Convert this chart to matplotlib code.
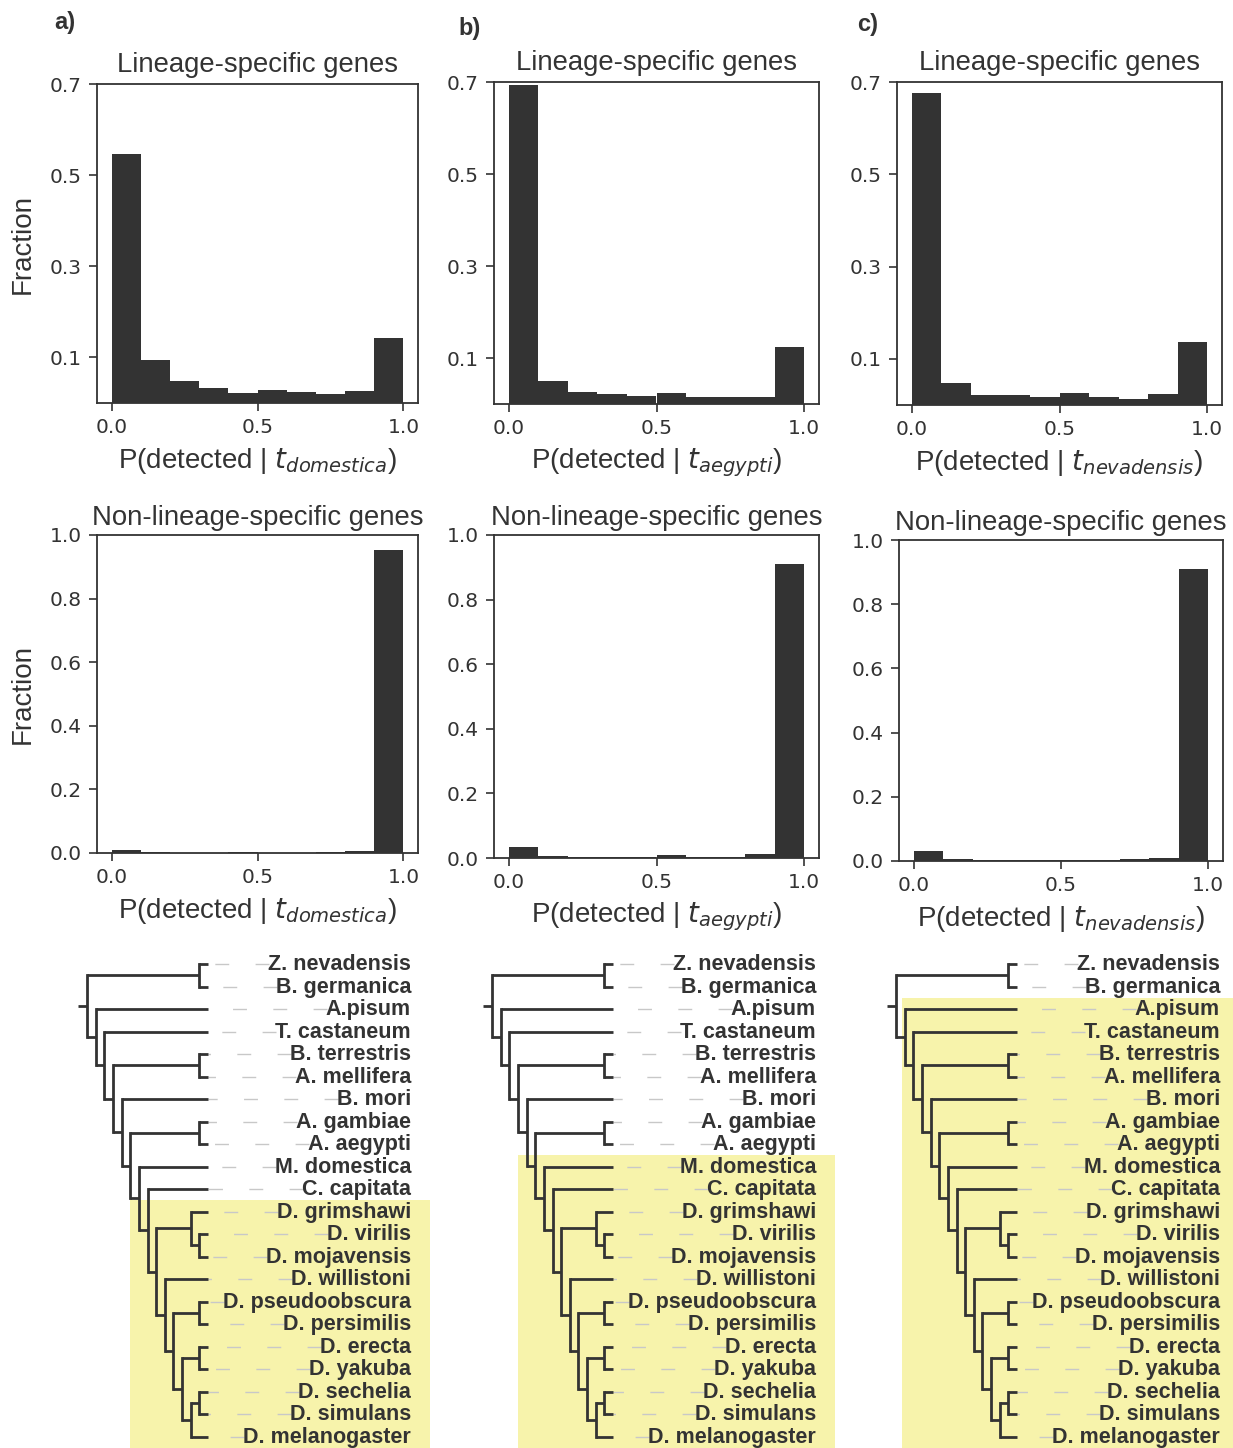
import numpy as np
import matplotlib
matplotlib.use('Agg')
import matplotlib.pyplot as plt
from matplotlib.patches import Rectangle

plt.rcParams['font.family'] = ['Liberation Sans', 'DejaVu Sans']
plt.rcParams['mathtext.fontset'] = 'dejavusans'

DARK = '#333333'
YELLOW = '#f7f3ab'
GUIDE = '#c8c8c8'

# histogram bins (P(detected) in steps of 0.1)
bin_edges = np.round(np.arange(0, 1.01, 0.1), 2)

# lineage-specific genes, fraction per bin
ls_domestica = [0.546, 0.095, 0.048, 0.033, 0.022, 0.029, 0.025, 0.019, 0.027, 0.142]
ls_aegypti = [0.693, 0.049, 0.027, 0.022, 0.017, 0.025, 0.015, 0.015, 0.016, 0.124]
ls_nevadensis = [0.677, 0.048, 0.021, 0.021, 0.018, 0.025, 0.018, 0.014, 0.023, 0.136]

# non-lineage-specific genes, fraction per bin
nls_domestica = [0.011, 0.002, 0.001, 0.001, 0.002, 0.001, 0.001, 0.002, 0.005, 0.953]
nls_aegypti = [0.034, 0.007, 0.004, 0.004, 0.004, 0.008, 0.004, 0.004, 0.013, 0.909]
nls_nevadensis = [0.031, 0.006, 0.003, 0.004, 0.004, 0.004, 0.003, 0.006, 0.008, 0.910]

focal = ['domestica', 'aegypti', 'nevadensis']
panel_letters = ['a)', 'b)', 'c)']
ls_data = [ls_domestica, ls_aegypti, ls_nevadensis]
nls_data = [nls_domestica, nls_aegypti, nls_nevadensis]

# species tree (leaf order top to bottom)
tree = (('Z. nevadensis', 'B. germanica'),
        ('A.pisum',
         ('T. castaneum',
          (('B. terrestris', 'A. mellifera'),
           ('B. mori',
            (('A. gambiae', 'A. aegypti'),
             ('M. domestica',
              ('C. capitata',
               (('D. grimshawi', ('D. virilis', 'D. mojavensis')),
                ('D. willistoni',
                 (('D. pseudoobscura', 'D. persimilis'),
                  (('D. erecta', 'D. yakuba'),
                   (('D. sechelia', 'D. simulans'), 'D. melanogaster')))))))))))))

# highlighted clade per panel: (first leaf, left edge, right edge in tree units)
highlight = [('D. grimshawi', -9.0, 25.7), ('M. domestica', -11.0, 25.7),
             ('A.pisum', -13.3, 30.0)]

W, H = 1233, 1448
fig = plt.figure(figsize=(W / 100, H / 100), dpi=100)


def px_axes(x0, y0, x1, y1):
    return fig.add_axes([x0 / W, 1 - y1 / H, (x1 - x0) / W, (y1 - y0) / H])


def style_hist(ax):
    for s in ax.spines.values():
        s.set_color(DARK)
        s.set_linewidth(1.3)
    ax.tick_params(colors=DARK, labelsize=14.5, length=6, width=1.2, pad=5,
                   top=False, right=False)
    ax.set_xlim(-0.05, 1.05)
    ax.set_xticks([0.0, 0.5, 1.0])
    ax.set_xticklabels(['0.0', '0.5', '1.0'], family='DejaVu Sans')


top_boxes = [(97, 84, 418, 403), (494, 82, 819, 404), (897, 82, 1222, 405)]
mid_boxes = [(97, 535, 418, 853), (494, 535, 819, 858), (899, 540, 1223, 861)]
letter_pos = [(65, 22), (470, 28), (868, 25)]

for i in range(3):
    xlab = r'P(detected | $t_{%s}$)' % focal[i]

    ax = px_axes(*top_boxes[i])
    ax.bar(bin_edges[:-1], ls_data[i], width=0.1, align='edge', color=DARK,
           linewidth=0)
    style_hist(ax)
    ax.set_ylim(0, 0.7)
    ax.set_yticks([0.1, 0.3, 0.5, 0.7])
    ax.set_yticklabels(['0.1', '0.3', '0.5', '0.7'], family='DejaVu Sans')
    ax.set_title('Lineage-specific genes', fontsize=19.8, color=DARK, pad=9)
    ax.set_xlabel(xlab, fontsize=20, color=DARK, labelpad=6)
    if i == 0:
        ax.set_ylabel('Fraction', fontsize=20, color=DARK, labelpad=10)

    ax = px_axes(*mid_boxes[i])
    ax.bar(bin_edges[:-1], nls_data[i], width=0.1, align='edge', color=DARK,
           linewidth=0)
    style_hist(ax)
    ax.set_ylim(0, 1.0)
    ax.set_yticks([0.0, 0.2, 0.4, 0.6, 0.8, 1.0])
    ax.set_yticklabels(['0.0', '0.2', '0.4', '0.6', '0.8', '1.0'],
                       family='DejaVu Sans')
    ax.set_title('Non-lineage-specific genes', fontsize=19.8, color=DARK, pad=7)
    ax.set_xlabel(xlab, fontsize=20, color=DARK, labelpad=6)
    if i == 0:
        ax.set_ylabel('Fraction', fontsize=20, color=DARK, labelpad=10)

    fig.text(letter_pos[i][0] / W, 1 - letter_pos[i][1] / H, panel_letters[i],
             fontsize=17, fontweight='bold', color=DARK, ha='center',
             va='center')


# tree layout: leaves at x=0, internal nodes at -height, y = leaf index
def layout(node, leaves, coords):
    if isinstance(node, str):
        y = len(leaves)
        leaves.append(node)
        coords[node] = (0.0, float(y))
        return 0, float(y)
    res = [layout(c, leaves, coords) for c in node]
    h = 1 + max(r[0] for r in res)
    y = (res[0][1] + res[-1][1]) / 2
    coords[id(node)] = (-float(h), y)
    return h, y


def draw_tree(ax, node, coords):
    if isinstance(node, str):
        return
    xn, yn = coords[id(node)]
    ys = []
    for c in node:
        xc, yc = coords[c] if isinstance(c, str) else coords[id(c)]
        ax.plot([xn, xc], [yc, yc], color=DARK, lw=2.0, solid_capstyle='butt')
        ys.append(yc)
        draw_tree(ax, c, coords)
    ax.plot([xn, xn], [min(ys), max(ys)], color=DARK, lw=2.0,
            solid_capstyle='projecting')


leaves, coords = [], {}
layout(tree, leaves, coords)
root_x, root_y = coords[id(tree)]

STEP = 8.64     # px per tree unit
ROW = 22.5      # px per leaf row
leaf_px = [208, 613, 1017]
TEXT_X = 23.5

tree_axes = []
for i in range(3):
    x0 = leaf_px[i] - 170
    x1 = min(leaf_px[i] + 232, W)
    y0, y1 = 945, H
    ax = px_axes(x0, y0, x1, y1)
    ax.set_xlim((x0 - leaf_px[i]) / STEP, (x1 - leaf_px[i]) / STEP)
    ax.set_ylim((y1 - 964) / ROW, (y0 - 964) / ROW)
    ax.axis('off')

    first, left, right = highlight[i]
    k = leaves.index(first)
    ax.add_patch(Rectangle((left, k - 0.5), right - left, len(leaves) - k,
                           color=YELLOW, lw=0, zorder=0))
    draw_tree(ax, tree, coords)
    ax.plot([root_x - 1, root_x], [root_y, root_y], color=DARK, lw=2.0,
            solid_capstyle='butt')
    texts = []
    for j, name in enumerate(leaves):
        t = ax.text(TEXT_X, j + 0.03, name, ha='right', va='center',
                    fontsize=15.5, fontweight='bold', color=DARK)
        texts.append(t)
    tree_axes.append((ax, texts))

fig.canvas.draw()
renderer = fig.canvas.get_renderer()
for ax, texts in tree_axes:
    inv = ax.transData.inverted()
    for j, t in enumerate(texts):
        bb = t.get_window_extent(renderer)
        xs = inv.transform((bb.x0 + 1, 0))[0]
        ax.plot([xs, 0], [j, j], color=GUIDE, lw=1.0,
                linestyle=(0, (10, 19)), zorder=1)

fig.savefig('out.png', dpi=100)
